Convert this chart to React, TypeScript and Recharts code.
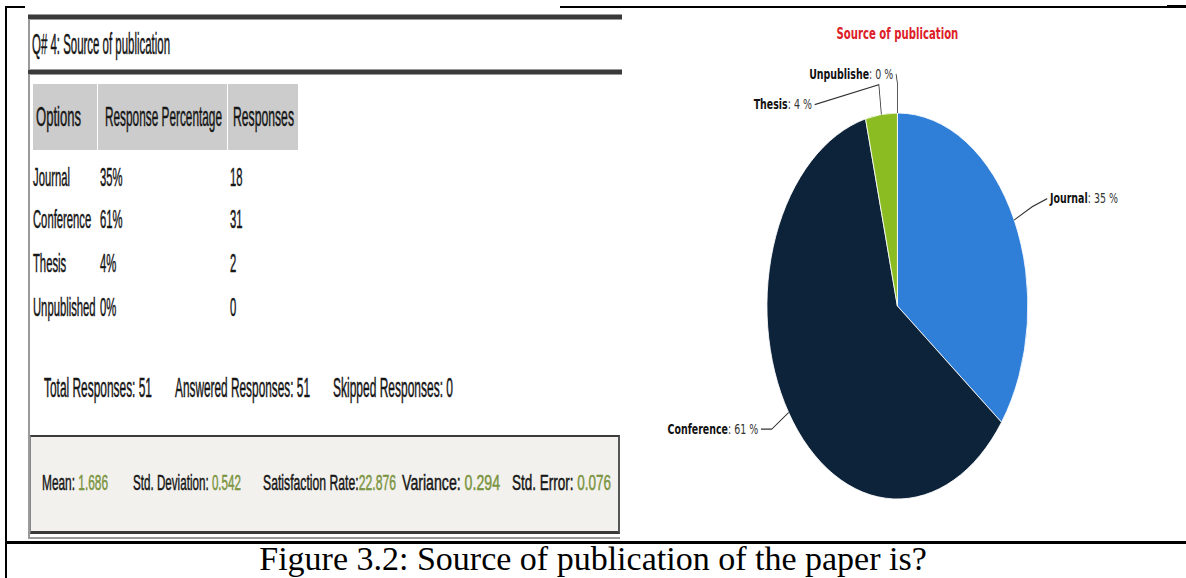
import React from "react";
import { Cell, Pie, PieChart } from "recharts";

// survey data
const OPTIONS = ["Journal", "Conference", "Thesis", "Unpublished"];
const PIE_NAMES = ["Journal", "Conference", "Thesis", "Unpublishe"];
const RESPONSES = [18, 31, 2, 0];
const RESPONSE_PCT = ["35%", "61%", "4%", "0%"];
const TOTALS = ["Total Responses: 51", "Answered Responses: 51", "Skipped Responses: 0"];
const STAT_LABELS = ["Mean: ", "Std. Deviation: ", "Satisfaction Rate:", "Variance: ", "Std. Error: "];
const STAT_VALUES = ["1.686", "0.542", "22.876", "0.294", "0.076"];
const SLICE_COLORS = ["#2f7ed8", "#0d233a", "#8bbc21", "#910000"];

// layout
const ROW_Y = [177, 219, 263, 307];
const TOTAL_X = [44, 175, 333];
const TOTAL_W = [108, 135, 120];
const STAT_X = [42, 133, 263, 402, 512];
const STAT_W = [66, 108, 133, 98, 99];
const PIE_LEFT = 627;
const PIE_SX = 0.676;
const LABEL_LAYOUT = [
  { dx: 22, dy: -8 },
  { dx: -16, dy: 0 },
  { dx: -95, dy: 20 },
  { dx: -2, dy: -9 },
];

const pieData = PIE_NAMES.map((name, i) => ({ name, value: RESPONSES[i] }));

const SANS = "'Liberation Sans', Arial, sans-serif";

let measureCtx: CanvasRenderingContext2D | null = null;
function textWidth(text: string, fs: number) {
  if (!measureCtx) measureCtx = document.createElement("canvas").getContext("2d");
  if (!measureCtx) return text.length * fs * 0.5;
  measureCtx.font = `${fs}px ${SANS}`;
  return measureCtx.measureText(text).width;
}

function Txt({
  x,
  y,
  fs,
  text,
  w,
  sx = 0.43,
  value,
}: {
  x: number;
  y: number;
  fs: number;
  text: string;
  w?: number;
  sx?: number;
  value?: string;
}) {
  const scale = w ? w / textWidth(text + (value ?? ""), fs) : sx;
  return (
    <div
      style={{
        position: "absolute",
        left: x,
        top: y,
        fontFamily: SANS,
        fontSize: fs,
        lineHeight: `${fs}px`,
        color: "#161616",
        whiteSpace: "nowrap",
        WebkitTextStroke: "0.5px currentColor",
        transform: `translateY(-50%) scaleX(${scale})`,
        transformOrigin: "0 50%",
      }}
    >
      {text}
      {value && <span style={{ color: "#7b9440" }}>{value}</span>}
    </div>
  );
}

function renderLabel(props: any) {
  const { cx, cy, midAngle, outerRadius, index, percent, name } = props;
  const rad = Math.PI / 180;
  const cos = Math.cos(-midAngle * rad);
  const sin = Math.sin(-midAngle * rad);
  const ex = cx + outerRadius * cos;
  const ey = cy + outerRadius * sin;
  const r2 = outerRadius + 30;
  const px = cx + r2 * cos;
  const py = cy + r2 * sin;
  const lay = LABEL_LAYOUT[index];
  const ax = px + lay.dx;
  const ay = py + lay.dy;
  const right = lay.dx > 0;
  return (
    <g key={`lbl-${index}`}>
      <path
        d={`M${ex},${ey} L${px},${py} L${ax},${ay}`}
        stroke="#333"
        strokeWidth={1.2}
        fill="none"
      />
      <text
        x={ax + (right ? 4 : -4)}
        y={ay}
        textAnchor={right ? "start" : "end"}
        dominantBaseline="central"
        fontSize={14}
        fontFamily="'DejaVu Sans', sans-serif"
      >
        <tspan fontWeight="bold" fill="#111">
          {name}
        </tspan>
        <tspan fill="#333">: {Math.round(percent * 100)} %</tspan>
      </text>
    </g>
  );
}

export default function App() {
  return (
    <div
      style={{
        position: "absolute",
        left: 0,
        top: 0,
        width: 1186,
        height: 578,
        overflow: "hidden",
        background: "#fff",
      }}
    >
      {/* document table lines */}
      <div style={{ position: "absolute", left: 5, top: 6, width: 2, height: 572, background: "#000" }} />
      <div style={{ position: "absolute", left: 5, top: 6, width: 20, height: 2, background: "#000" }} />
      <div style={{ position: "absolute", left: 560, top: 6, width: 610, height: 1.5, background: "#000" }} />
      <div style={{ position: "absolute", left: 1167, top: 5, width: 19, height: 3, background: "#000" }} />
      <div style={{ position: "absolute", left: 5, top: 541, width: 1181, height: 3, background: "#000" }} />

      {/* survey screenshot */}
      <div style={{ position: "absolute", left: 28, top: 14, width: 1.5, height: 524, background: "#9a9a9a" }} />
      <div style={{ position: "absolute", left: 28, top: 14, width: 594, height: 4, background: "#3a3a3a", borderTop: "1px solid #999", borderBottom: "1px solid #999" }} />
      <div style={{ position: "absolute", left: 28, top: 69, width: 594, height: 4, background: "#3a3a3a", borderTop: "1px solid #999", borderBottom: "1px solid #999" }} />
      <div style={{ position: "absolute", left: 28, top: 537, width: 592, height: 1.5, background: "#9a9a9a" }} />

      <Txt x={32} y={44} fs={29} text="Q# 4: Source of publication" w={138} />

      <div style={{ position: "absolute", left: 33, top: 84, width: 64, height: 66, background: "#cccccc" }} />
      <div style={{ position: "absolute", left: 98, top: 84, width: 129, height: 66, background: "#cccccc" }} />
      <div style={{ position: "absolute", left: 228, top: 84, width: 70, height: 66, background: "#cccccc" }} />
      <Txt x={36} y={117} fs={28} text="Options" w={45} />
      <Txt x={105} y={117} fs={28} text="Response Percentage" w={117} />
      <Txt x={233} y={117} fs={28} text="Responses" w={61} />

      {OPTIONS.map((opt, i) => (
        <React.Fragment key={opt}>
          <Txt x={33} y={ROW_Y[i]} fs={25} sx={0.45} text={opt} />
          <Txt x={100} y={ROW_Y[i]} fs={25} sx={0.45} text={RESPONSE_PCT[i]} />
          <Txt x={230} y={ROW_Y[i]} fs={25} sx={0.45} text={String(RESPONSES[i])} />
        </React.Fragment>
      ))}

      {TOTALS.map((t, i) => (
        <Txt key={t} x={TOTAL_X[i]} y={388} fs={27} text={t} w={TOTAL_W[i]} />
      ))}

      <div
        style={{
          position: "absolute",
          left: 30,
          top: 435,
          width: 587,
          height: 94,
          background: "#f2f1ed",
          borderTop: "2px solid #3a3a3a",
          borderBottom: "3px solid #3a3a3a",
          borderLeft: "1px solid #888",
          borderRight: "2px solid #555",
        }}
      />
      {STAT_LABELS.map((label, i) => (
        <Txt key={label} x={STAT_X[i]} y={483} fs={22} text={label} value={STAT_VALUES[i]} w={STAT_W[i]} />
      ))}

      {/* pie chart */}
      <div
        style={{
          position: "absolute",
          left: PIE_LEFT,
          top: 0,
          width: 800,
          height: 540,
          transform: `scaleX(${PIE_SX})`,
          transformOrigin: "0 0",
        }}
      >
        <div
          style={{
            position: "absolute",
            left: 0,
            top: 25,
            width: 800,
            textAlign: "center",
            fontFamily: "'DejaVu Sans', sans-serif",
            fontWeight: "bold",
            fontSize: 15,
            lineHeight: "18px",
            color: "#dc2028",
          }}
        >
          Source of publication
        </div>
        <PieChart width={800} height={540} margin={{ top: 0, right: 0, bottom: 0, left: 0 }}>
          <Pie
            data={pieData}
            dataKey="value"
            nameKey="name"
            cx={400}
            cy={306}
            outerRadius={193}
            startAngle={90}
            endAngle={-270}
            stroke="#ffffff"
            strokeWidth={1}
            label={renderLabel}
            labelLine={false}
            isAnimationActive={false}
          >
            {pieData.map((d, i) => (
              <Cell key={d.name} fill={SLICE_COLORS[i]} />
            ))}
          </Pie>
        </PieChart>
      </div>

      <div
        style={{
          position: "absolute",
          left: 0,
          top: 559,
          width: 1186,
          textAlign: "center",
          fontFamily: "'Liberation Serif', 'Times New Roman', serif",
          fontSize: 34,
          lineHeight: "34px",
          color: "#000",
          transform: "translateY(-50%)",
        }}
      >
        Figure 3.2: Source of publication of the paper is?
      </div>
    </div>
  );
}
